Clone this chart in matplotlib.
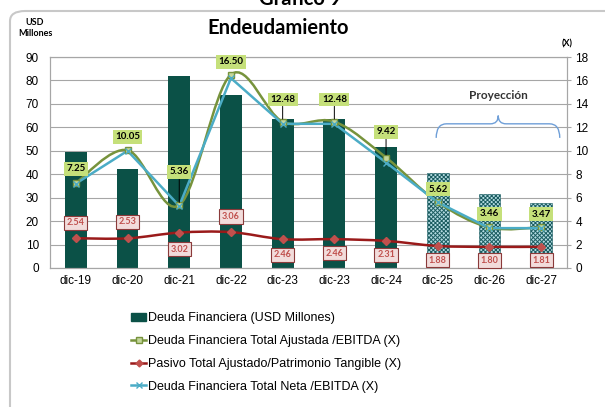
import numpy as np
import matplotlib.pyplot as plt
from matplotlib.path import Path
from matplotlib.patches import PathPatch, FancyBboxPatch, Patch
from matplotlib.lines import Line2D

# --- datos ---
periodos = ['dic-19', 'dic-20', 'dic-21', 'dic-22', 'dic-23', 'dic-23',
            'dic-24', 'dic-25', 'dic-26', 'dic-27']
deuda_usd = [49.5, 42.3, 82.0, 74.0, 63.6, 63.4, 51.8, 40.7, 31.5, 27.7]
ajustada_ebitda = [7.25, 10.05, 5.36, 16.50, 12.48, 12.48, 9.42, 5.62, 3.46, 3.47]
pasivo_patrimonio = [2.54, 2.53, 3.02, 3.06, 2.46, 2.46, 2.31, 1.88, 1.80, 1.81]
neta_ebitda = [7.2, 10.0, 5.3, 16.2, 12.3, 12.3, 9.0, 5.6, 3.4, 3.4]
proyectado = [False] * 7 + [True] * 3

# posicion de etiquetas (desplazamiento vertical, eje derecho)
off_verde = [1.2, 1.15, 2.85, 1.1, 1.9, 1.9, 2.2, 1.1, 1.15, 1.1]
guia_verde = [False, False, True, False, True, True, True, False, False, False]
off_rojo = [1.3, 1.4, -1.4, 1.35, -1.35, -1.2, -1.2, -1.2, -1.15, -1.15]

C_BAR = '#0b5147'
C_VERDE = '#77933c'
C_ROJO = '#9a1a1a'
C_CIAN = '#4bacc6'
C_GRID = '#a6a6a6'


def smooth_path(xs, ys):
    # curva suave tipo Excel (Catmull-Rom -> Bezier)
    p = np.column_stack([xs, ys]).astype(float)
    ext = np.vstack([p[0], p, p[-1]])
    verts = [p[0]]
    codes = [Path.MOVETO]
    for i in range(1, len(ext) - 2):
        c1 = ext[i] + (ext[i + 1] - ext[i - 1]) / 6
        c2 = ext[i + 1] - (ext[i + 2] - ext[i]) / 6
        verts += [c1, c2, ext[i + 1]]
        codes += [Path.CURVE4] * 3
    return Path(verts, codes)


plt.rcParams['font.family'] = ['Liberation Sans', 'DejaVu Sans']
plt.rcParams['hatch.linewidth'] = 0.7

fig = plt.figure(figsize=(6.05, 4.07), dpi=100)
ax = fig.add_axes([50 / 605, 1 - 268 / 407, 517 / 605, 211 / 407])
ax2 = ax.twinx()

x = np.arange(len(periodos))

# barras
for xi, v, proy in zip(x, deuda_usd, proyectado):
    if proy:
        ax.bar(xi, v, width=0.42, color='#b4dbe2', edgecolor='#1a5c60',
               hatch='xxxxxxxx', linewidth=0.4, zorder=2)
    else:
        ax.bar(xi, v, width=0.42, color=C_BAR, zorder=2)

ax.set_xlim(-0.5, len(periodos) - 0.5)
ax.set_ylim(0, 90)
ax.set_yticks(range(0, 91, 10))
ax.yaxis.grid(True, color=C_GRID, lw=0.8)
ax.set_axisbelow(True)
ax.set_xticks(x)
ax.set_xticklabels(periodos)
ax.tick_params(axis='x', length=0, labelsize=8.5, pad=5)
ax.tick_params(axis='y', length=0, labelsize=8.5, pad=8)
for s in ax.spines.values():
    s.set_color(C_GRID)

ax2.set_ylim(0, 18)
ax2.set_yticks(range(0, 19, 2))
ax2.tick_params(axis='y', length=3, color=C_GRID, labelsize=8.5, pad=3)
for s in ax2.spines.values():
    s.set_color(C_GRID)

# lineas
ax2.add_patch(PathPatch(smooth_path(x, ajustada_ebitda), fc='none',
                        ec=C_VERDE, lw=1.8, zorder=3))
ax2.add_patch(PathPatch(smooth_path(x, pasivo_patrimonio), fc='none',
                        ec=C_ROJO, lw=1.8, zorder=3))
ax2.plot(x, neta_ebitda, color=C_CIAN, lw=1.8, zorder=4)
ax2.plot(x, ajustada_ebitda, ls='none', marker='s', ms=5, mfc='#c3d69b',
         mec=C_VERDE, zorder=5)
ax2.plot(x, pasivo_patrimonio, ls='none', marker='D', ms=4.5, color='#c0504d',
         zorder=5)
ax2.plot(x, neta_ebitda, ls='none', marker='x', ms=4, color=C_CIAN, zorder=5)

# etiquetas verdes
for xi, v, o, g in zip(x, ajustada_ebitda, off_verde, guia_verde):
    ax2.annotate(f'{v:.2f}', (xi, v), xytext=(xi, v + o), ha='center', va='center',
                 fontsize=7, fontweight='bold', family='Lato', zorder=6,
                 bbox=dict(boxstyle='square,pad=0.25', fc='#c5e07a', ec='none'),
                 arrowprops=dict(arrowstyle='-', color='black', lw=0.7,
                                 shrinkA=0, shrinkB=2) if g else None)

# etiquetas rojas
for xi, v, o in zip(x, pasivo_patrimonio, off_rojo):
    ax2.text(xi, v + o, f'{v:.2f}', ha='center', va='center', fontsize=6.5,
             fontweight='bold', family='Lato', color='#c0504d', zorder=6,
             bbox=dict(boxstyle='square,pad=0.3', fc='#f2dcdb', ec='#8b3a3a', lw=0.8))

# llave "Proyeccion"
bx0, bx1, bm = 6.97, 9.36, 8.17
by_tip, by, by_top = 11.1, 12.3, 13.0
brace = Path([(bx0, by_tip), (bx0, by), (bx0 + 0.2, by), (bm - 0.15, by),
              (bm, by), (bm, by_top), (bm, by), (bm + 0.15, by),
              (bx1 - 0.2, by), (bx1, by), (bx1, by_tip)],
             [Path.MOVETO, Path.CURVE3, Path.CURVE3, Path.LINETO,
              Path.CURVE3, Path.CURVE3, Path.CURVE3, Path.CURVE3,
              Path.LINETO, Path.CURVE3, Path.CURVE3])
ax2.add_patch(PathPatch(brace, fc='none', ec='#6f9fd8', lw=1.0, zorder=3))
ax2.text(bm, 14.7, 'Proyección', ha='center', va='center', fontsize=8.5,
         fontweight='bold', family='Lato', color='#333333')

# textos del marco
fig.text(300 / 605, 1 - 5 / 407, 'Gráfico 9', ha='center', va='baseline',
         fontsize=14.5, fontweight='bold', family='Lato')
fig.text(278 / 605, 1 - 28 / 407, 'Endeudamiento', ha='center', va='center',
         fontsize=14.5, fontweight='bold', family='Lato')
fig.text(35 / 605, 1 - 28 / 407, 'USD\nMillones', ha='center', va='center',
         fontsize=6.5, fontweight='bold', family='Lato', linespacing=1.4)
fig.text(567 / 605, 1 - 44 / 407, '(X)', ha='center', va='center',
         fontsize=6.5, fontweight='bold', family='Lato')

fig.patches.append(FancyBboxPatch((10 / 605, -0.1), 1.2, 1 - 11 / 407 + 0.1,
                                  boxstyle='round,pad=0,rounding_size=0.025',
                                  transform=fig.transFigure, fc='none',
                                  ec='#c8c8c8', lw=1.5))

# leyenda
handles = [Patch(color=C_BAR),
           Line2D([], [], color=C_VERDE, lw=1.8, marker='s', ms=5,
                  mfc='#c3d69b', mec=C_VERDE),
           Line2D([], [], color=C_ROJO, lw=1.8, marker='D', ms=3.5, mfc='#c0504d',
                  mec='#c0504d'),
           Line2D([], [], color=C_CIAN, lw=1.8, marker='x', ms=4)]
labels = ['Deuda Financiera (USD Millones)',
          'Deuda Financiera Total Ajustada /EBITDA (X)',
          'Pasivo Total Ajustado/Patrimonio Tangible (X)',
          'Deuda Financiera Total Neta /EBITDA (X)']
fig.legend(handles, labels, loc='upper left', bbox_to_anchor=(131 / 605, 1 - 312 / 407),
           frameon=False, fontsize=9, handlelength=1.2, handleheight=0.6,
           handletextpad=0.15, labelspacing=0.87, borderpad=0, borderaxespad=0)

fig.savefig('out.png', dpi=100)
